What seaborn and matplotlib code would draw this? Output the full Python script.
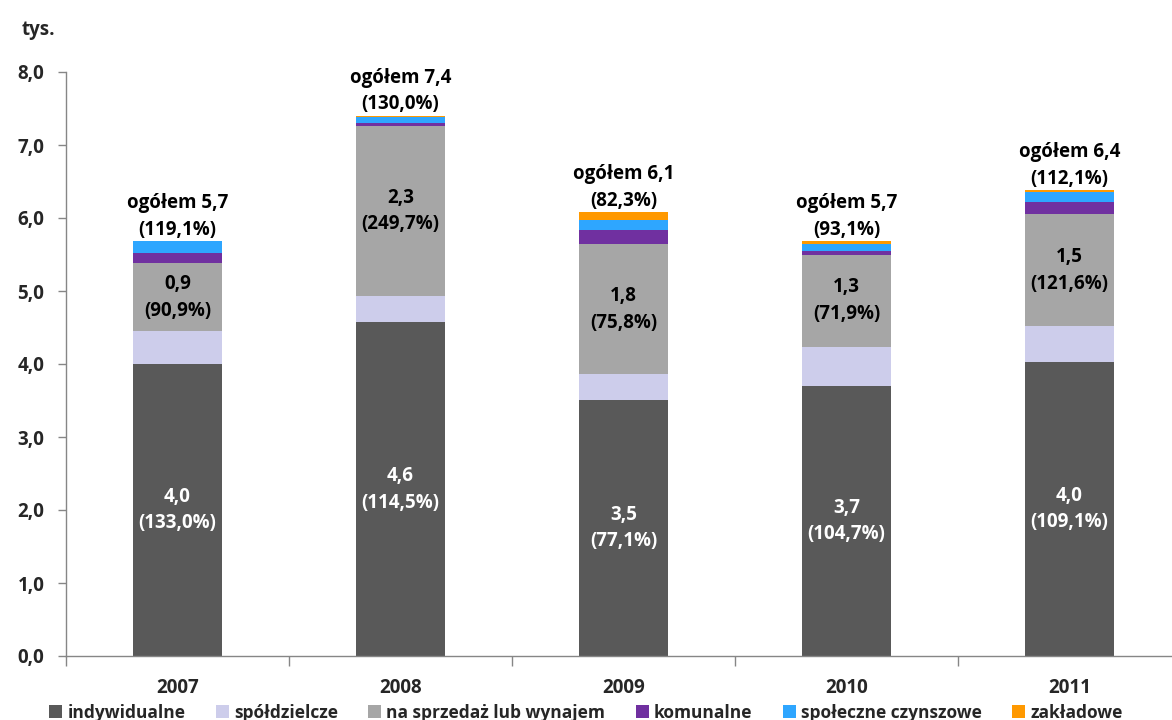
import numpy as np
import pandas as pd
import seaborn as sns
import matplotlib.pyplot as plt
from matplotlib.patches import Patch
from matplotlib.ticker import FuncFormatter, FixedLocator

# Mieszkania oddane do użytkowania według form budownictwa (tys.)
years = ["2007", "2008", "2009", "2010", "2011"]
indywidualne = [4.00, 4.57, 3.51, 3.70, 4.03]
spoldzielcze = [0.45, 0.36, 0.35, 0.53, 0.49]
na_sprzedaz = [0.93, 2.33, 1.78, 1.27, 1.53]
komunalne = [0.14, 0.04, 0.20, 0.05, 0.17]
spoleczne = [0.16, 0.08, 0.13, 0.09, 0.13]
zakladowe = [0.00, 0.02, 0.11, 0.04, 0.03]

# dynamika (rok poprzedni = 100)
pct_indywidualne = ["133,0", "114,5", "77,1", "104,7", "109,1"]
pct_na_sprzedaz = ["90,9", "249,7", "75,8", "71,9", "121,6"]
pct_ogolem = ["119,1", "130,0", "82,3", "93,1", "112,1"]

series_names = ["indywidualne", "spółdzielcze", "na sprzedaż lub wynajem",
                "komunalne", "społeczne czynszowe", "zakładowe"]
series_values = [indywidualne, spoldzielcze, na_sprzedaz,
                 komunalne, spoleczne, zakladowe]
colors = ["#595959", "#CDCDEB", "#A6A6A6", "#7030A0", "#2EA6FF", "#FF9900"]

sns.set_theme(style="white")
plt.rcParams["font.family"] = ["Open Sans", "DejaVu Sans"]
plt.rcParams["font.weight"] = "bold"

FS = 13.5
LS = 1.45

df = pd.DataFrame({name: vals for name, vals in zip(series_names, series_values)},
                  index=years)
cum = df.cumsum(axis=1)
totals = cum.iloc[:, -1].values

fig = plt.figure(figsize=(11.72, 7.2), dpi=100)
ax = fig.add_axes([66 / 1172, 64 / 720, 1115 / 1172, 584 / 720])

# stacked bars: cumulative heights drawn from the top layer downwards
for name, color in reversed(list(zip(series_names, colors))):
    sns.barplot(x=years, y=cum[name].values, order=years, color=color,
                saturation=1, width=0.4, linewidth=0, ax=ax)

fmt = lambda v: f"{v:.1f}".replace(".", ",")

for i in range(len(years)):
    ax.text(i, indywidualne[i] / 2, f"{fmt(indywidualne[i])}\n({pct_indywidualne[i]}%)",
            ha="center", va="center", color="white", fontsize=FS,
            fontweight="bold", linespacing=LS)
    mid = indywidualne[i] + spoldzielcze[i] + na_sprzedaz[i] / 2
    ax.text(i, mid, f"{fmt(na_sprzedaz[i])}\n({pct_na_sprzedaz[i]}%)",
            ha="center", va="center", color="black", fontsize=FS,
            fontweight="bold", linespacing=LS)
    ax.annotate(f"ogółem {fmt(totals[i])}\n({pct_ogolem[i]}%)",
                xy=(i, totals[i]), xytext=(0, 1), textcoords="offset points",
                ha="center", va="bottom", color="black", fontsize=FS,
                fontweight="bold", linespacing=LS)

ax.set_ylim(0, 8)
ax.set_xlim(-0.5, len(years) - 0.5)
ax.set_yticks(np.arange(0, 9, 1))
ax.yaxis.set_major_formatter(FuncFormatter(lambda v, p: fmt(v)))
ax.xaxis.set_minor_locator(FixedLocator(np.arange(-0.5, len(years), 1.0)))

for side in ["top", "right"]:
    ax.spines[side].set_visible(False)
for side in ["left", "bottom"]:
    ax.spines[side].set_color("#868686")
    ax.spines[side].set_linewidth(1.0)

ax.tick_params(axis="y", which="major", direction="out", length=5.5, width=1,
               color="#868686", labelsize=FS, pad=10, left=True)
ax.tick_params(axis="x", which="major", length=0, labelsize=FS, pad=16)
ax.tick_params(axis="x", which="minor", direction="out", length=7, width=1,
               color="#868686", bottom=True)
for lbl in ax.get_xticklabels() + ax.get_yticklabels():
    lbl.set_fontweight("bold")
ax.set_xlabel("")
ax.set_ylabel("")

fig.text(22 / 1172, 1 - 30 / 720, "tys.", ha="left", va="center",
         fontsize=FS, fontweight="bold")

handles = [Patch(facecolor=c, edgecolor="none") for c in colors]
fig.legend(handles, series_names, loc="lower center", bbox_to_anchor=(0.5, -0.024),
           ncol=6, frameon=False, handlelength=0.75, handleheight=0.75,
           handletextpad=0.3, columnspacing=1.75,
           prop={"weight": "bold", "size": 12.5})

fig.savefig("out.png", dpi=100)
